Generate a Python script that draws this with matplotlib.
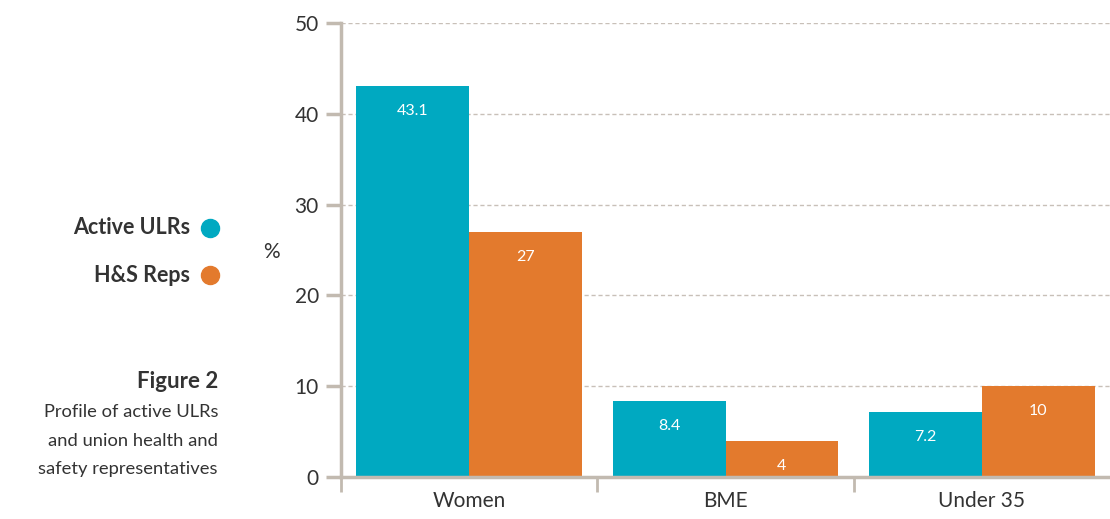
import matplotlib
matplotlib.use("Agg")
import matplotlib.pyplot as plt
import numpy as np

categories = ["Women", "BME", "Under 35"]
active_ulrs = [43.1, 8.4, 7.2]
hs_reps = [27, 4, 10]
series_names = ["Active ULRs", "H&S Reps"]
y_ticks = [0, 10, 20, 30, 40, 50]
caption_title = "Figure 2"
caption_lines = ["Profile of active ULRs", "and union health and",
                 "safety representatives"]

TEAL = "#00a9c1"
ORANGE = "#e37a2d"
AXIS = "#c2bab0"
GRID = "#c8c0b8"
TEXT = "#333333"

plt.rcParams["font.family"] = ["Lato", "Open Sans", "DejaVu Sans"]

W, H = 1110, 519
fig = plt.figure(figsize=(W / 100, H / 100), dpi=100)
ax = fig.add_axes([341 / W, 42 / H, 1 - 341 / W, 454 / H])

x = np.arange(len(categories))
w = 0.44
b1 = ax.bar(x - w / 2, active_ulrs, w, color=TEAL, zorder=2)
b2 = ax.bar(x + w / 2, hs_reps, w, color=ORANGE, zorder=2)

for bars, vals in ((b1, active_ulrs), (b2, hs_reps)):
    for r, v in zip(bars, vals):
        ax.annotate(f"{v:g}", (r.get_x() + r.get_width() / 2, v),
                    xytext=(0, -18), textcoords="offset points",
                    ha="center", va="center", color="white",
                    fontsize=11.5, zorder=3)

ax.set_xlim(-0.5, 2.5)
ax.set_ylim(0, 50)
ax.set_yticks(y_ticks)
ax.set_yticklabels([str(t) for t in y_ticks], fontsize=15, color=TEXT)
ax.tick_params(axis="y", length=11, width=2.5, color=AXIS, pad=5)

ax.set_xticks(x)
ax.set_xticklabels(categories, fontsize=15, color=TEXT)
ax.tick_params(axis="x", which="major", length=0, pad=10)
ax.set_xticks([-0.5, 0.5, 1.5], minor=True)
ax.tick_params(axis="x", which="minor", length=11, width=2, color=AXIS,
               direction="out")

for t in y_ticks[1:]:
    ax.axhline(t, color=GRID, lw=1, ls=(0, (3, 2)), zorder=1)

for s in ("top", "right"):
    ax.spines[s].set_visible(False)
for s in ("left", "bottom"):
    ax.spines[s].set_color(AXIS)
    ax.spines[s].set_linewidth(2.5)

fig.text(271 / W, 1 - 252 / H, "%", ha="center", va="center",
         fontsize=15, color=TEXT)

# legend at the left, labels right-aligned with coloured dots
for i, (name, col) in enumerate(zip(series_names, (TEAL, ORANGE))):
    y = 1 - (228 + 47 * i) / H
    fig.text(190 / W, y, name, ha="right", va="center", fontsize=15.5,
             fontweight="bold", color=TEXT)
    fig.add_artist(plt.Line2D([210 / W], [y], marker="o", markersize=13,
                              color=col, transform=fig.transFigure))

fig.text(218 / W, 1 - 382 / H, caption_title, ha="right", va="center",
         fontsize=16, fontweight="bold", color=TEXT)
for i, line in enumerate(caption_lines):
    fig.text(218 / W, 1 - (412 + 28.5 * i) / H, line, ha="right",
             va="center", fontsize=13.2, color=TEXT)

fig.savefig("out.png", dpi=100)
